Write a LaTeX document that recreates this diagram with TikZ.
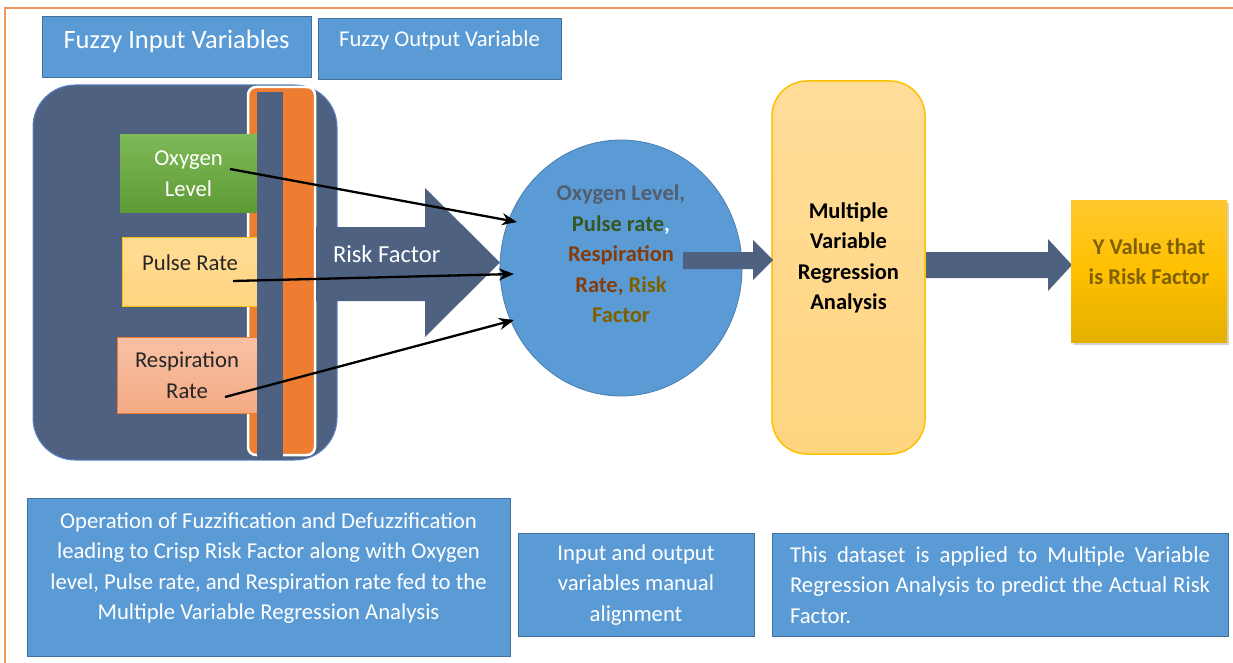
\documentclass[tikz,border=0pt]{standalone}
\usepackage{fontspec}
\setmainfont{Carlito}
\usetikzlibrary{shapes.geometric,arrows.meta,shadows}

\definecolor{frameor}{HTML}{F0965A}
\definecolor{bluefill}{HTML}{5B9BD5}
\definecolor{blueline}{HTML}{41719C}
\definecolor{slate}{HTML}{4E6181}
\definecolor{slateline}{HTML}{5B84C4}
\definecolor{orangefill}{HTML}{ED7D31}
\definecolor{goldline}{HTML}{FFC000}
\definecolor{txtdark}{HTML}{262626}
\definecolor{oxyc}{HTML}{525E6E}
\definecolor{pulsec}{HTML}{375623}
\definecolor{respc}{HTML}{843C0C}
\definecolor{riskc}{HTML}{7F6000}

\begin{document}
\begin{tikzpicture}[x=1pt,y=-1pt,
  every node/.style={inner sep=0pt, outer sep=0pt},
  bluebox/.style={rectangle, fill=bluefill, draw=blueline, line width=1pt},
  blocktip/.style={fill=slate},
  txt/.style={font=\fontsize{22.7}{30.6}\selectfont, align=center},
  boldtxt/.style={font=\fontsize{22.5}{30.5}\selectfont\bfseries, align=center},
  feed/.style={line width=2.3pt, -{Stealth[length=15pt,width=12pt]}}
]
\useasboundingbox (0,0) rectangle (1233,663);

% page frame
\draw[frameor, line width=1.5pt] (5,663) -- (5,8) -- (1233,8);

% title boxes
\node[bluebox, minimum width=269pt, minimum height=61pt] (fin) at (176.5,47.5) {};
\node[font=\fontsize{26.5}{30}\selectfont, text=white, anchor=base] at (176.5,49) {Fuzzy Input Variables};
\node[bluebox, minimum width=243pt, minimum height=61pt] (fout) at (439.5,49.5) {};
\node[font=\fontsize{22.6}{30}\selectfont, text=white, anchor=base] at (439.5,47) {Fuzzy Output Variable};

% fuzzy input panel
\node[rectangle, rounded corners=42pt, fill=slate, draw=slateline, line width=1pt,
      minimum width=304pt, minimum height=375pt] (panel) at (185,272.5) {};
\node[rectangle, rounded corners=8pt, fill=orangefill, draw=white, line width=2.5pt,
      minimum width=67pt, minimum height=368pt] (strip) at (281.5,271) {};

% input variables
\node[rectangle, top color={rgb,255:red,126;green,185;blue,87}, bottom color={rgb,255:red,94;green,155;blue,53},
      minimum width=137pt, minimum height=77pt] (oxy) at (188.5,173.5) {};
\node[txt, text=white] at (oxy.center) {Oxygen\\Level};
\node[rectangle, top color={rgb,255:red,255;green,220;blue,150}, bottom color={rgb,255:red,255;green,213;blue,128},
      draw=goldline, line width=1pt, minimum width=135pt, minimum height=69pt] (pulse) at (189.5,271.5) {};
\node[txt, text=txtdark] at (190,263) {Pulse Rate};
\node[rectangle, top color={rgb,255:red,247;green,193;blue,164}, bottom color={rgb,255:red,244;green,170;blue,132},
      draw=orangefill, line width=1pt, minimum width=140pt, minimum height=76pt] (resp) at (187,375) {};
\node[txt, text=txtdark] at (resp.center) {Respiration\\Rate};

% bar over the strip
\node[rectangle, fill=slate, minimum width=26pt, minimum height=368pt] (bar) at (270,276) {};

% risk factor block arrow
\path[blocktip] (316,227) -- (425,227) -- (425,188) -- (500,262.5) -- (425,337) -- (425,301) -- (316,301) -- cycle;
\node[font=\fontsize{24.5}{30}\selectfont, text=white, anchor=base west] (risk) at (333,262) {Risk Factor};

% combined variables
\node[ellipse, fill=bluefill, draw=blueline!70!bluefill, line width=0.8pt,
      minimum width=242pt, minimum height=256pt] (circ) at (621,268) {};
\node[boldtxt] at (621,254) {\textcolor{oxyc}{Oxygen Level,}\\
  \textcolor{pulsec}{Pulse rate}\textcolor{white}{,}\\
  \textcolor{respc}{Respiration}\\
  \textcolor{respc}{Rate,} \textcolor{riskc}{Risk}\\
  \textcolor{riskc}{Factor}};

% feeds into the combined set
\coordinate (oxyS) at (230,169);
\coordinate (pulseS) at (233,281);
\coordinate (respS) at (225,397);
\coordinate (oxyE) at (517,222);
\coordinate (pulseE) at (514,274);
\coordinate (respE) at (514,320);
\draw[feed] (oxyS) -- (oxyE);
\draw[feed] (pulseS) -- (pulseE);
\draw[feed] (respS) -- (respE);

% regression stage
\node[rectangle, rounded corners=35pt, top color={rgb,255:red,255;green,221;blue,153},
      bottom color={rgb,255:red,255;green,213;blue,128}, draw=goldline, line width=1.5pt,
      minimum width=153pt, minimum height=373pt] (mvra) at (848.5,267.5) {};
\node[boldtxt, text=black] at (848.5,258) {Multiple\\Variable\\Regression\\Analysis};

\path[blocktip] (683,252) -- (753,252) -- (753,240) -- (773,260) -- (753,280) -- (753,269) -- (683,269) -- cycle;
\path[blocktip] (926,252) -- (1048,252) -- (1048,239) -- (1072,265) -- (1048,291) -- (1048,278) -- (926,278) -- cycle;

% result
\node[rectangle, top color={rgb,255:red,255;green,200;blue,46}, bottom color={rgb,255:red,228;green,176;blue,0},
      middle color=goldline, drop shadow={shadow xshift=2pt, shadow yshift=-3pt, opacity=0.35},
      minimum width=156pt, minimum height=142pt] (yval) at (1149,271) {};
\node[boldtxt, text=riskc] at (1149,261.5) {Y Value that\\is Risk Factor};

% notes
\node[bluebox, minimum width=483pt, minimum height=158pt] (op) at (268.5,577) {};
\node[txt, text=white] at (268.5,568) {Operation of Fuzzification and Defuzzification\\
  leading to Crisp Risk Factor along with Oxygen\\
  level, Pulse rate, and Respiration rate fed to the\\
  Multiple Variable Regression Analysis};
\node[bluebox, minimum width=236pt, minimum height=103pt] (inout) at (636,584.5) {};
\node[txt, text=white] at (636,585) {Input and output\\variables manual\\alignment};
\node[bluebox, minimum width=456pt, minimum height=103pt] (data) at (1000,584.5) {};
\node[font=\fontsize{22.7}{30.6}\selectfont, text=white, text width=420pt, align=justify] at (1000,585)
  {This dataset is applied to Multiple Variable\linebreak
   Regression Analysis to predict the Actual Risk\linebreak
   Factor.};
\end{tikzpicture}
\end{document}
